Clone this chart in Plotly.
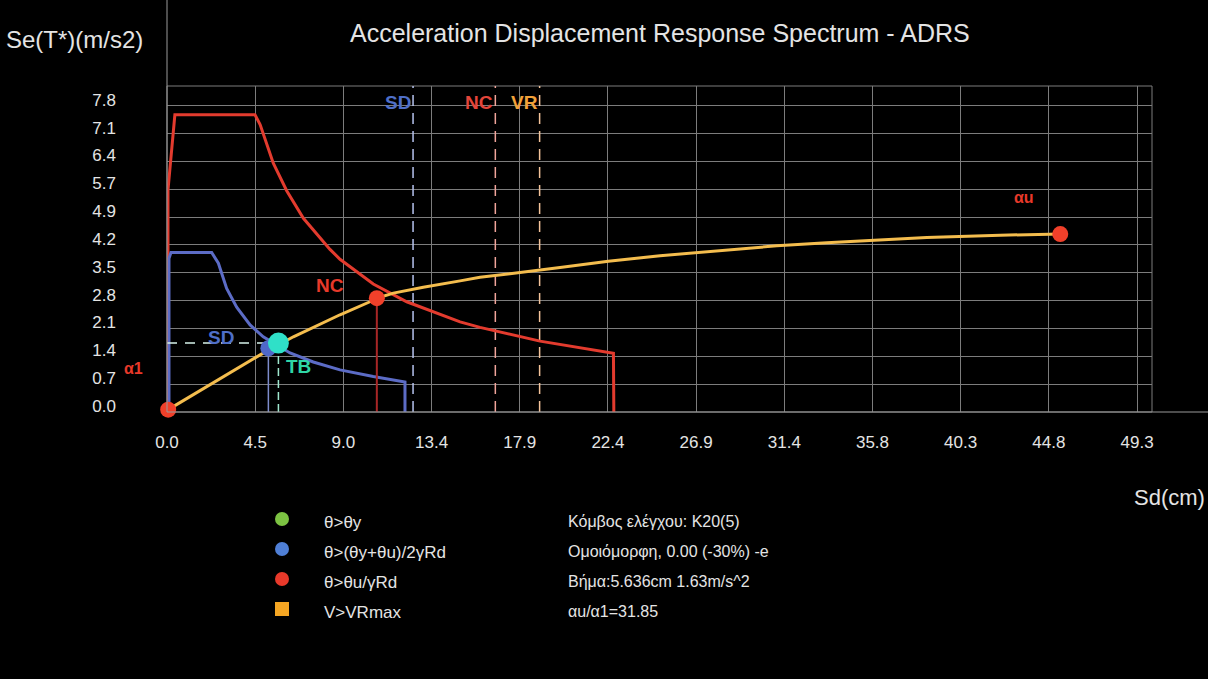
import plotly.graph_objects as go

# ---- spectrum data (Sd in cm, Sa in m/s2) ----
nc_sd = [0.05, 0.05, 0.40, 4.47, 4.73, 5.40, 6.08, 6.93, 8.28, 8.79, 10.48, 12.18,
         14.89, 15.90, 18.95, 22.42, 22.68, 22.70]
nc_sa = [0.00, 5.64, 7.55, 7.55, 7.30, 6.32, 5.62, 4.92, 4.13, 3.88, 3.25, 2.80,
         2.29, 2.15, 1.80, 1.52, 1.49, 0.00]

sd_sd = [0.10, 0.10, 0.20, 2.27, 2.61, 3.03, 3.54, 4.22, 4.89, 6.25, 7.43, 8.79,
         10.48, 11.84, 12.09, 12.09]
sd_sa = [0.00, 3.90, 4.05, 4.05, 3.78, 3.14, 2.66, 2.21, 1.91, 1.50, 1.27, 1.07,
         0.90, 0.79, 0.76, 0.00]

# capacity (pushover) curve
cap_sd = [0.06, 4.73, 6.42, 8.79, 10.31, 10.66, 11.50, 13.02, 14.89, 15.90,
          19.97, 22.42, 25.05, 28.44, 30.98, 33.52, 36.06, 38.60, 42.33, 45.38]
cap_sa = [0.06, 1.45, 1.91, 2.47, 2.80, 2.89, 3.02, 3.17, 3.33, 3.42,
          3.67, 3.83, 3.97, 4.12, 4.22, 4.30, 4.36, 4.43, 4.49, 4.52]

# characteristic points
a1_pt = (0.06, 0.06)
nc_pt = (10.66, 2.89)
au_pt = (45.38, 4.52)
sd_pt = (5.15, 1.62)
tb_pt = (5.66, 1.75)

# limit-state displacements (dashed verticals)
limit_names = ["SD", "NC", "VR"]
limit_sd = [12.50, 16.68, 18.93]
limit_text_colors = ["#4f6fc8", "#e3453a", "#f2a23a"]
limit_line_colors = ["#b6c2ee", "#f0a49a", "#f3c39a"]

# axis ticks
x_step = 4.48
x_tick_labels = ["0.0", "4.5", "9.0", "13.4", "17.9", "22.4", "26.9", "31.4",
                 "35.8", "40.3", "44.8", "49.3"]
y_step = 0.707
y_tick_labels = ["0.0", "0.7", "1.4", "2.1", "2.8", "3.5", "4.2", "4.9", "5.7",
                 "6.4", "7.1", "7.8"]

legend_labels = ["θ>θy", "θ>(θy+θu)/2γRd", "θ>θu/γRd", "V>VRmax"]
legend_colors = ["#7cc242", "#4f7fd6", "#e8392a", "#f5a623"]
info_lines = ["Κόμβος ελέγχου: Κ20(5)", "Ομοιόμορφη, 0.00 (-30%) -e",
              "Βήμα:5.636cm 1.63m/s^2", "αu/α1=31.85"]

FONT = "Liberation Sans, Arial, sans-serif"
TXT = "#e4e4e4"
GRID = "#7c7c7c"

# plot-area geometry in page pixels
L, R, T, B = 167, 1152, 86, 412
W, H = R - L, B - T
X_MAX, Y_MAX = 50.04, 8.28


def paper(xp, yp):
    return (xp - L) / W, (B - yp) / H


fig = go.Figure()

# limit-state dashed lines
for sd, lc in zip(limit_sd, limit_line_colors):
    fig.add_trace(go.Scatter(x=[sd, sd], y=[0, Y_MAX], mode="lines",
                             line=dict(color=lc, width=1.5, dash="11px,7px"),
                             hoverinfo="skip"))

# demand spectra and capacity curve
fig.add_trace(go.Scatter(x=nc_sd, y=nc_sa, mode="lines",
                         line=dict(color="#e33b2e", width=3)))
fig.add_trace(go.Scatter(x=sd_sd, y=sd_sa, mode="lines",
                         line=dict(color="#5c6cc6", width=3)))
fig.add_trace(go.Scatter(x=cap_sd, y=cap_sa, mode="lines",
                         line=dict(color="#f4bd4e", width=3)))

# drop lines from the points to the Sd axis
fig.add_trace(go.Scatter(x=[nc_pt[0], nc_pt[0]], y=[0, nc_pt[1]], mode="lines",
                         line=dict(color="#a82626", width=2)))
fig.add_trace(go.Scatter(x=[sd_pt[0], sd_pt[0]], y=[0, sd_pt[1]], mode="lines",
                         line=dict(color="#7d8ccc", width=1.5)))
fig.add_trace(go.Scatter(x=[tb_pt[0], tb_pt[0]], y=[0, tb_pt[1]], mode="lines",
                         line=dict(color="#9fe8cf", width=1.5, dash="8px,4px")))
fig.add_trace(go.Scatter(x=[0, tb_pt[0]], y=[tb_pt[1], tb_pt[1]], mode="lines",
                         line=dict(color="#d6f2ea", width=1.5, dash="10px,8px")))

# markers
fig.add_trace(go.Scatter(x=[sd_pt[0]], y=[sd_pt[1]], mode="markers",
                         marker=dict(color="#4f68c8", size=16), cliponaxis=False))
fig.add_trace(go.Scatter(x=[tb_pt[0]], y=[tb_pt[1]], mode="markers",
                         marker=dict(color="#2fe0c8", size=21), cliponaxis=False))
fig.add_trace(go.Scatter(x=[a1_pt[0], nc_pt[0], au_pt[0]],
                         y=[a1_pt[1], nc_pt[1], au_pt[1]], mode="markers",
                         marker=dict(color="#f0402a", size=16), cliponaxis=False))

ann = []


def label(text, xp, yp, color=TXT, size=14, bold=False, anchor="center"):
    xx, yy = paper(xp, yp)
    ann.append(dict(text=f"<b>{text}</b>" if bold else text, x=xx, y=yy,
                    xref="paper", yref="paper", xanchor=anchor, yanchor="middle",
                    showarrow=False, font=dict(family=FONT, size=size, color=color)))


# titles
label("Acceleration Displacement Response Spectrum - ADRS", 660, 33, size=25)
label("Se(T*)(m/s2)", 4, 40, size=24, anchor="left")
label("Sd(cm)", 1207, 497, size=22, anchor="right")

# point labels
label("α1", 133, 368, color="#e8392a", size=16, bold=True)
label("NC", 330, 285, color="#e8392a", size=19, bold=True)
label("αu", 1024, 197, color="#e8392a", size=16, bold=True)
label("SD", 221, 337, color="#4f6fc8", size=19, bold=True)
label("TB", 298, 366, color="#2fd6a6", size=19, bold=True)

# limit-state labels at the top, ending at their dashed line
for name, sd, tc in zip(limit_names, limit_sd, limit_text_colors):
    ann.append(dict(text=f"<b>{name}</b>", x=sd / X_MAX, y=paper(0, 102)[1],
                    xref="paper", yref="paper", xanchor="right", yanchor="middle",
                    showarrow=False, font=dict(family=FONT, size=19, color=tc)))

# legend and info block
shapes = []
for i, (lab, col) in enumerate(zip(legend_labels, legend_colors)):
    yp = 519 + 30 * i
    cx, cy = paper(282, yp)
    shapes.append(dict(type="rect" if i == 3 else "circle",
                       xref="paper", yref="paper", xsizemode="pixel", ysizemode="pixel",
                       xanchor=cx, yanchor=cy, x0=-7, x1=7, y0=-7, y1=7,
                       fillcolor=col, line=dict(width=0)))
    label(lab, 322, yp + 3, size=17, anchor="left")
for i, line in enumerate(info_lines):
    label(line, 566, 521 + 30 * i, size=16, anchor="left")

# axis lines, extended past the plot area, and plot frame
x_a, y_a = paper(L, 0)
x_b, y_b = paper(1208, B)
shapes.append(dict(type="line", xref="paper", yref="paper", x0=0, x1=0, y0=0, y1=y_a,
                   line=dict(color="#9a9a9a", width=1)))
shapes.append(dict(type="line", xref="paper", yref="paper", x0=0, x1=x_b, y0=0, y1=0,
                   line=dict(color="#9a9a9a", width=1)))
shapes.append(dict(type="rect", xref="paper", yref="paper", x0=0, x1=1, y0=0, y1=1,
                   line=dict(color=GRID, width=1), layer="below"))

fig.update_layout(
    width=1208, height=679,
    margin=dict(l=L, r=1208 - R, t=T, b=679 - B),
    paper_bgcolor="black", plot_bgcolor="black",
    showlegend=False,
    annotations=ann, shapes=shapes,
    xaxis=dict(range=[0, X_MAX], tickvals=[i * x_step for i in range(len(x_tick_labels))],
               ticktext=x_tick_labels, showgrid=True, gridcolor=GRID, gridwidth=1,
               zeroline=False, showline=False, ticks="", ticklabelstandoff=18,
               tickfont=dict(family=FONT, size=17, color=TXT)),
    yaxis=dict(range=[0, Y_MAX], tickvals=[i * y_step for i in range(len(y_tick_labels))],
               ticktext=y_tick_labels, showgrid=True, gridcolor=GRID, gridwidth=1,
               zeroline=False, showline=False, ticks="", ticklabelstandoff=50,
               ticklabelshift=-6,
               tickfont=dict(family=FONT, size=17, color=TXT)),
)

fig.write_html("out.html")
